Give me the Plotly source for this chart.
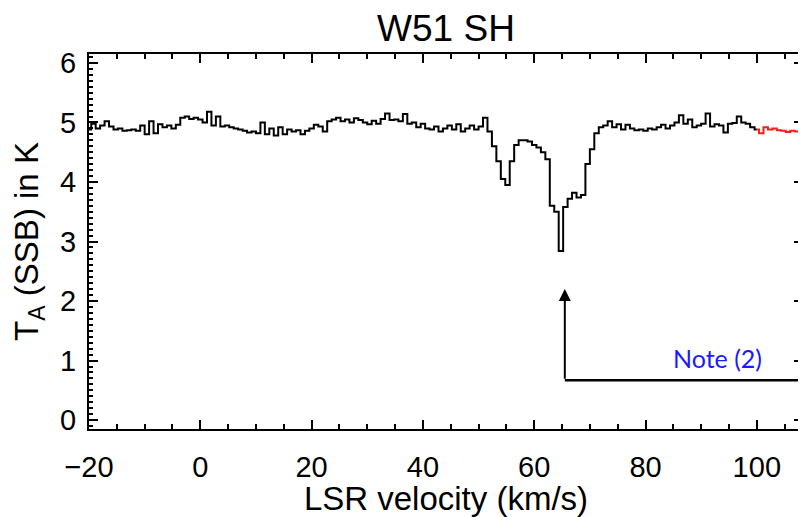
import numpy as np
import plotly.graph_objects as go

# Spectrum: channel grid start / width (km/s)
V_START = -20.0
V_STEP = 0.8

# Antenna temperature per channel (K), black part (v < 100 km/s)
t_black = [
    4.88, 4.98, 4.90, 4.95, 5.02, 4.93, 4.88, 4.90, 4.86, 4.87,
    4.88, 4.86, 4.95, 4.80, 5.02, 4.82, 4.97, 4.92, 4.95, 4.90,
    4.96, 5.08, 5.10, 5.06, 5.08, 5.05, 5.00, 5.18, 4.95, 5.10,
    4.93, 4.95, 4.92, 4.90, 4.88, 4.86, 4.83, 4.85, 4.82, 5.00,
    4.80, 4.90, 4.78, 4.92, 4.80, 4.88, 4.85, 4.87, 4.80, 4.86,
    4.90, 4.96, 4.93, 4.85, 5.02, 5.05, 5.08, 5.02, 5.05, 5.00,
    5.07, 5.04, 5.00, 4.97, 5.03, 4.98, 5.06, 5.15, 5.04, 5.05,
    5.02, 5.14, 4.98, 5.00, 4.92, 4.98, 4.90, 4.88, 4.93, 4.85,
    4.90, 4.95, 4.88, 4.97, 4.85, 4.90, 4.95, 4.88, 4.93, 5.08,
    4.85, 4.60, 4.35, 4.05, 3.95, 4.35, 4.62, 4.70, 4.70, 4.68,
    4.62, 4.58, 4.50, 4.38, 3.60, 3.50, 2.84, 3.58, 3.72, 3.82,
    3.74, 3.78, 4.30, 4.55, 4.82, 4.92, 4.95, 5.02, 4.92, 4.97,
    4.88, 4.96, 4.90, 4.87, 4.88, 4.86, 4.90, 4.88, 4.92, 4.96,
    4.90, 4.95, 5.00, 5.12, 4.98, 5.05, 4.92, 4.95, 4.98, 5.15,
    4.93, 4.97, 4.95, 4.83, 4.98, 4.99, 5.10, 5.00, 4.98, 4.92,
]
# Red part (v >= 100 km/s)
t_red = [4.88, 4.82, 4.92, 4.88, 4.90, 4.87, 4.86, 4.84, 4.86, 4.85, 4.95]

x_ticks = [-20, 0, 20, 40, 60, 80, 100]
y_ticks = [0, 1, 2, 3, 4, 5, 6]

NOTE_V, NOTE_T_TIP, NOTE_T_BASE = 65.5, 2.2, 0.67

v_black = V_START + V_STEP * np.arange(len(t_black))
v_red = V_START + V_STEP * (len(t_black) + np.arange(len(t_red)))
# join the two segments
v_black_j = np.append(v_black, v_red[0])
t_black_j = t_black + [t_red[0]]

fig = go.Figure()
fig.add_trace(go.Scatter(x=v_black_j, y=t_black_j, mode="lines",
                         line=dict(color="black", width=2, shape="hvh"),
                         showlegend=False))
fig.add_trace(go.Scatter(x=v_red, y=t_red, mode="lines",
                         line=dict(color="#ff1a1a", width=2, shape="hvh"),
                         showlegend=False))

FAM = "Liberation Sans, Arial, sans-serif"
tickfont = dict(family=FAM, size=29, color="black")
titlefont = dict(family=FAM, size=33, color="black")

# page body has an 8px margin, so the figure is 8px smaller than the window
W, H = 798, 509

fig.update_layout(
    width=W, height=H,
    margin=dict(l=81, r=3, t=46, b=88, autoexpand=False),
    paper_bgcolor="white", plot_bgcolor="white",
    title=dict(text="W51 SH", x=0.5, xref="paper", xanchor="center",
               y=1 - 20 / H, yanchor="middle", yref="container",
               font=dict(family=FAM, size=37, color="black")),
    xaxis=dict(range=[-20, 108.3], tickvals=x_ticks,
               ticktext=["\u221220" if v < 0 else str(v) for v in x_ticks],
               ticks="inside", ticklen=9, tickwidth=2, tickcolor="black",
               minor=dict(dtick=5, tick0=0, ticks="inside", ticklen=5, tickwidth=1.5, tickcolor="black"),
               showline=True, linecolor="black", linewidth=2, mirror="ticks",
               showgrid=False, zeroline=False, tickfont=tickfont,
               ticklabelstandoff=11, automargin=False,
               title=dict(text="LSR velocity (km/s)", font=titlefont, standoff=3)),
    yaxis=dict(range=[-0.15, 6.15], tickvals=y_ticks,
               ticks="inside", ticklen=9, tickwidth=2, tickcolor="black",
               minor=dict(dtick=0.1, tick0=0, ticks="inside", ticklen=4, tickwidth=1.5, tickcolor="black"),
               showline=True, linecolor="black", linewidth=2, mirror="ticks",
               showgrid=False, zeroline=False, tickfont=tickfont,
               ticklabelstandoff=5, automargin=False,
               title=dict(text="T<sub>A</sub> (SSB) in K", font=titlefont, standoff=13)),
)

fig.add_annotation(x=NOTE_V, y=NOTE_T_TIP, ax=NOTE_V, ay=NOTE_T_BASE,
                   xref="x", yref="y", axref="x", ayref="y",
                   showarrow=True, arrowhead=2, arrowsize=1.2, arrowwidth=2,
                   arrowcolor="black", text="")
fig.add_shape(type="line", x0=NOTE_V, x1=108.3, y0=NOTE_T_BASE, y1=NOTE_T_BASE,
              xref="x", yref="y", line=dict(color="black", width=2.5))
fig.add_annotation(x=93.0, y=1.04, xref="x", yref="y", showarrow=False,
                   text="Note (2)", font=dict(family="Lato, Open Sans, sans-serif", size=25, color="#1a1aff"))

fig.write_html("out.html")
